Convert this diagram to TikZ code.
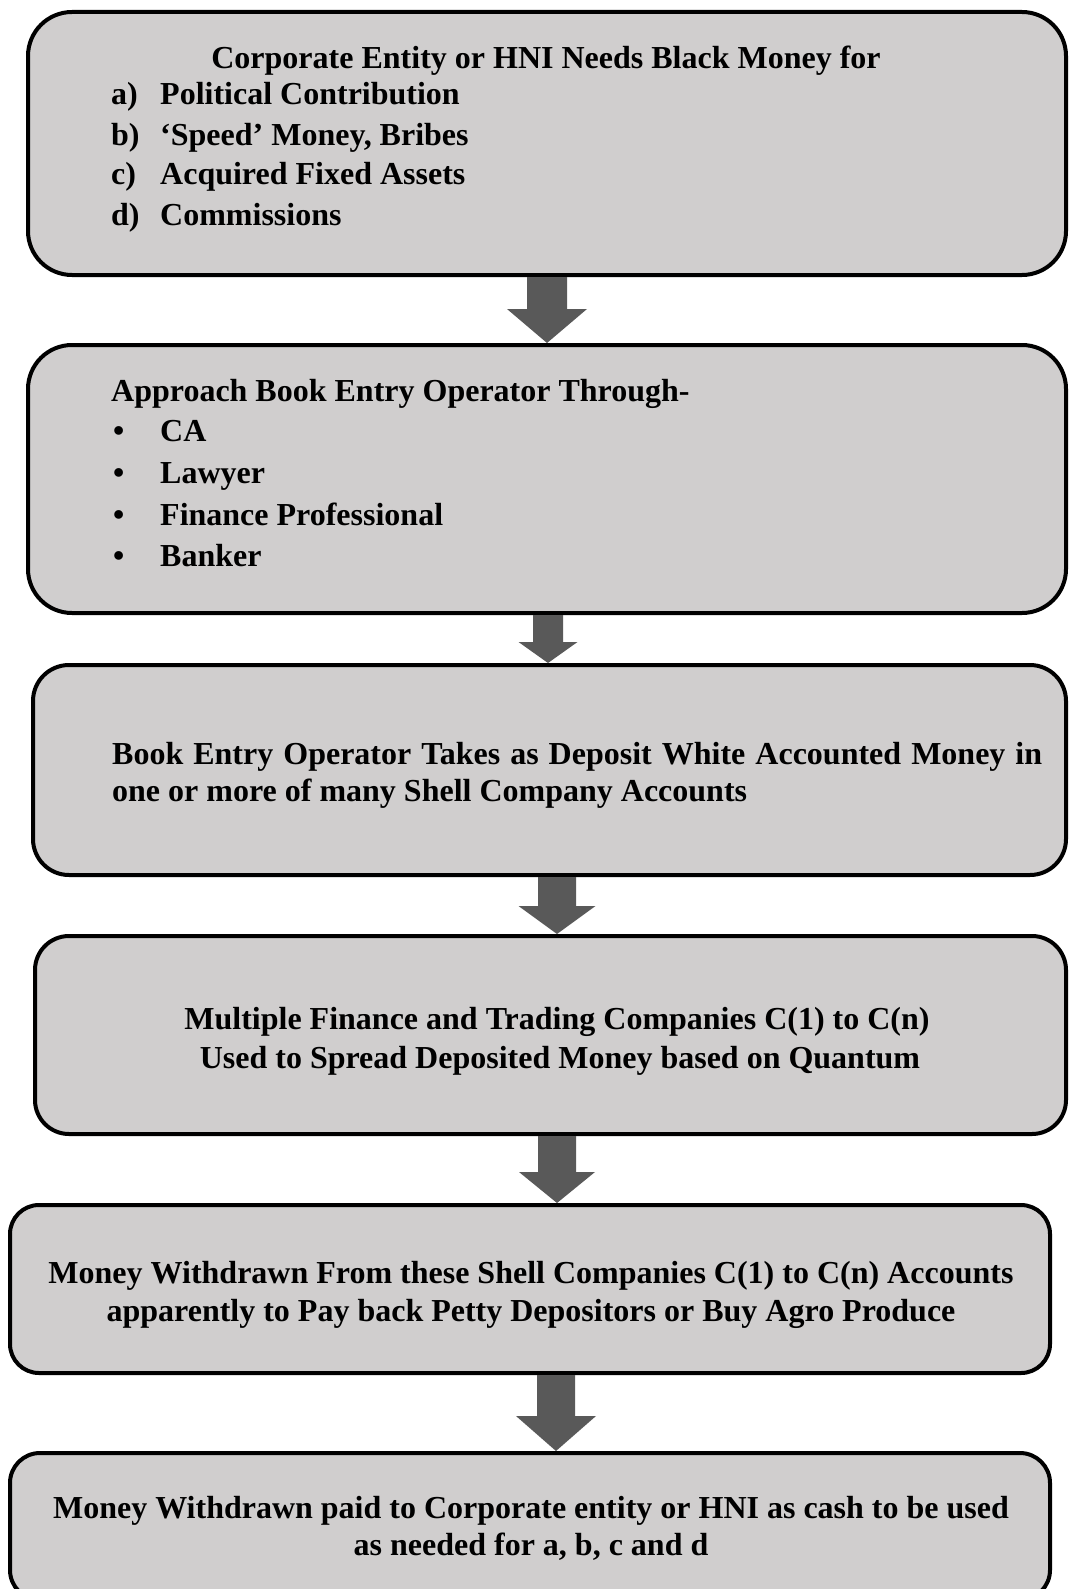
\documentclass[tikz,border=0pt]{standalone}
\usepackage{fontspec}
\setmainfont{Liberation Serif}
\usetikzlibrary{calc}
\definecolor{boxfill}{HTML}{D0CECE}
\definecolor{arrfill}{HTML}{595959}
\newcommand\blockarr[6]{%
  \fill[arrfill] let \p1=(#1.south), \p2=(#2.north) in
   ({#3pt-#4pt},\y1) -- ({#3pt+#4pt},\y1) -- ({#3pt+#4pt},{\y2+#6pt}) -- ({#3pt+#5pt},{\y2+#6pt})
   -- ({#3pt},\y2) -- ({#3pt-#5pt},{\y2+#6pt}) -- ({#3pt-#4pt},{\y2+#6pt}) -- cycle;}
\begin{document}
\begin{tikzpicture}[x=1pt,y=-1pt,
  box/.style={draw=black, line width=4pt, fill=boxfill, inner sep=0pt, outer sep=2pt},
  txt/.style={font=\fontsize{32}{38}\selectfont\bfseries, inner sep=0pt, anchor=base west},
  ctxt/.style={font=\fontsize{32}{38}\selectfont\bfseries, inner sep=0pt, anchor=base}]
\useasboundingbox (0,0) rectangle (1068,1589);
\clip (0,0) rectangle (1068,1589);
% boxes
\node[box, rounded corners=44pt, minimum width=1038pt, minimum height=263pt] (b1) at (547,143.5) {};
\node[box, rounded corners=44pt, minimum width=1038pt, minimum height=268pt] (b2) at (547,479) {};
\node[box, rounded corners=36pt, minimum width=1033pt, minimum height=210pt] (b3) at (549.5,770) {};
\node[box, rounded corners=34pt, minimum width=1031pt, minimum height=198pt] (b4) at (550.5,1035) {};
\node[box, rounded corners=29pt, minimum width=1040pt, minimum height=168pt] (b5) at (530,1289) {};
\node[box, rounded corners=30pt, minimum width=1040pt, minimum height=147pt] (b6) at (530,1526.5) {};
% arrows
\blockarr{b1}{b2}{547}{20}{40}{34}
\blockarr{b2}{b3}{548}{15}{29.5}{21}
\blockarr{b3}{b4}{557}{19}{38.5}{28}
\blockarr{b4}{b5}{557}{19}{38}{31}
\blockarr{b5}{b6}{556}{19}{40}{35}
% box 1 text
\node[ctxt] (t1) at (546,69) {Corporate Entity or HNI Needs Black Money for};
\node[txt] (t1al) at (111,105) {a)};
\node[txt] (t1a) at (160,105) {Political Contribution};
\node[txt] (t1bl) at (111,146) {b)};
\node[txt] (t1b) at (160,146) {‘Speed’ Money, Bribes};
\node[txt] (t1cl) at (111,185) {c)};
\node[txt] (t1c) at (160,185) {Acquired Fixed Assets};
\node[txt] (t1dl) at (111,226) {d)};
\node[txt] (t1d) at (160,226) {Commissions};
% box 2 text
\node[txt] (t2) at (111,401) {Approach Book Entry Operator Through-};
\node[txt] (t2al) at (113,441) {\textbullet};
\node[txt] (t2a) at (160,441) {CA};
\node[txt] (t2bl) at (113,483) {\textbullet};
\node[txt] (t2b) at (160,483) {Lawyer};
\node[txt] (t2cl) at (113,525) {\textbullet};
\node[txt] (t2c) at (160,525) {Finance Professional};
\node[txt] (t2dl) at (113,566) {\textbullet};
\node[txt] (t2d) at (160,566) {Banker};
% box 3 text
\node[txt] (t3a) at (112,764) {\makebox[930pt][s]{Book Entry Operator Takes as Deposit White Accounted Money in}};
\node[txt] (t3b) at (112,801) {one or more of many Shell Company Accounts};
% box 4 text
\node[ctxt] (t4a) at (557,1029) {Multiple Finance and Trading Companies C(1) to C(n)};
\node[ctxt] (t4b) at (560,1068) {Used to Spread Deposited Money based on Quantum};
% box 5 text
\node[ctxt] (t5a) at (531,1283) {Money Withdrawn From these Shell Companies C(1) to C(n) Accounts};
\node[ctxt] (t5b) at (531,1321) {apparently to Pay back Petty Depositors or Buy Agro Produce};
% box 6 text
\node[ctxt] (t6a) at (531,1518) {Money Withdrawn paid to Corporate entity or HNI as cash to be used};
\node[ctxt] (t6b) at (531,1555) {as needed for a, b, c and d};
\end{tikzpicture}
\end{document}
